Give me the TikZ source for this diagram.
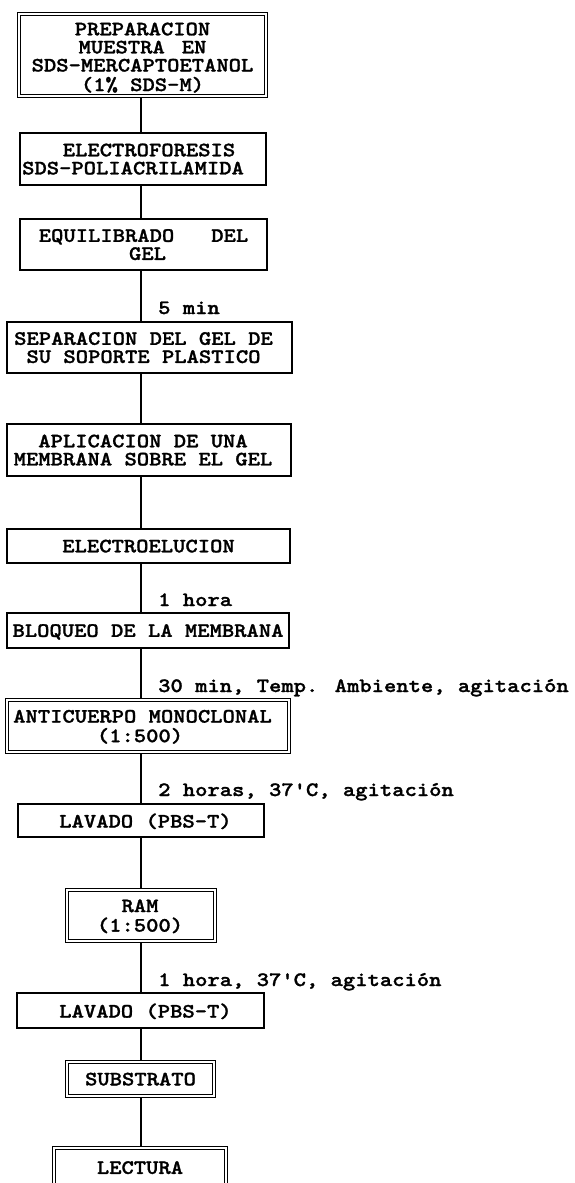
\documentclass[tikz,border=0pt]{standalone}
\usepackage{fontspec}
\newfontfamily\tw{lmmonolt10-bold.otf}[FakeStretch=1.15,FakeBold=1.3]
\usetikzlibrary{backgrounds}
% #1 horizontal shift (half applied twice), #2 vertical raise, #3 lines
\newcommand\bt[3]{\makebox[0pt]{\hspace*{#1}\hspace*{#1}\raisebox{#2}[\height][\depth]{\begin{tabular}{@{}c@{}}#3\end{tabular}}}}
\newcommand\sx[2]{\hspace*{#1}\hspace*{#1}#2}
\begin{document}
\begin{tikzpicture}[x=1pt,y=-1pt,
  every node/.style={font=\tw\fontsize{20.4}{18}\selectfont},
  sbox/.style={draw, line width=1.4pt, rectangle, inner sep=0pt},
  dbox/.style={draw, line width=1pt, double, double distance=2.4pt, rectangle, inner sep=0pt},
  lab/.style={anchor=base west, inner sep=0pt},
  link/.style={line width=1.4pt}]
\useasboundingbox (0,0) rectangle (574,1183);
\coordinate (sp) at (141,0);

\node[dbox, minimum width=246.6pt, minimum height=81.6pt] (b1) at (142.5,55)
  {\bt{0pt}{-4.5pt}{PREPARACION\\MUESTRA\hspace{17pt}EN\\SDS-MERCAPTOETANOL\\(1\% SDS-M)}};
\node[sbox, minimum width=246pt, minimum height=52pt] (b2) at (143,159)
  {\bt{0pt}{-2.7pt}{\sx{6pt}{ELECTROFORESIS}\\\sx{-10pt}{SDS-POLIACRILAMIDA}}};
\node[sbox, minimum width=247pt, minimum height=51pt] (b3) at (143.5,244.5)
  {\bt{0pt}{-2.7pt}{EQUILIBRADO\hspace{37pt}DEL\\\sx{4pt}{GEL}}};
\node[sbox, minimum width=285pt, minimum height=51pt] (b4) at (149.5,347.5)
  {\bt{-6pt}{-2.7pt}{SEPARACION DEL GEL DE\\SU SOPORTE PLASTICO}};
\node[sbox, minimum width=284pt, minimum height=52pt] (b5) at (149,450)
  {\bt{-6pt}{-2.7pt}{APLICACION DE UNA\\MEMBRANA SOBRE EL GEL}};
\node[sbox, minimum width=283pt, minimum height=34pt] (b6) at (148.5,546)
  {\bt{0pt}{-2.7pt}{ELECTROELUCION}};
\node[sbox, minimum width=282pt, minimum height=35pt] (b7) at (148,630.5)
  {\bt{0pt}{-2.7pt}{BLOQUEO DE LA MEMBRANA}};
\node[dbox, minimum width=281.6pt, minimum height=51.6pt] (b8) at (148,726)
  {\bt{-5.5pt}{-2.7pt}{ANTICUERPO MONOCLONAL\\\sx{-2.5pt}{(1:500)}}};
\node[sbox, minimum width=246pt, minimum height=33pt] (b9) at (141,820.5)
  {\bt{4.5pt}{-2.7pt}{LAVADO (PBS-T)}};
\node[dbox, minimum width=147.6pt, minimum height=50.6pt] (b10) at (141,915.5)
  {\bt{-1pt}{-2.7pt}{RAM\\(1:500)}};
\node[sbox, minimum width=247pt, minimum height=35pt] (b11) at (140.5,1010.5)
  {\bt{5pt}{-2.7pt}{LAVADO (PBS-T)}};
\node[dbox, minimum width=146.6pt, minimum height=33.6pt] (b12) at (140.5,1079)
  {\bt{0pt}{-2.7pt}{SUBSTRATO}};
\node[dbox, minimum width=171.6pt, minimum height=38.6pt] (b13) at (140,1167.5)
  {\bt{0pt}{-2.7pt}{LECTURA}};

\node[lab] (l1) at (158,314) {5 min};
\node[lab] (l2) at (158,606) {1 hora};
\node[lab] (l3) at (158,692) {30 min, Temp. Ambiente, agitación};
\node[lab] (l4) at (158,796) {2 horas, 37'C, agitación};
\node[lab] (l5) at (158,986) {1 hora, 37'C, agitación};

\begin{scope}[on background layer]
\foreach \a/\b in {b1/b2,b2/b3,b3/b4,b4/b5,b5/b6,b6/b7,b7/b8,b8/b9,b9/b10,b10/b11,b11/b12,b12/b13}
  \draw[link] (\a.south -| sp) -- (\b.north -| sp);
\end{scope}
\end{tikzpicture}
\end{document}
